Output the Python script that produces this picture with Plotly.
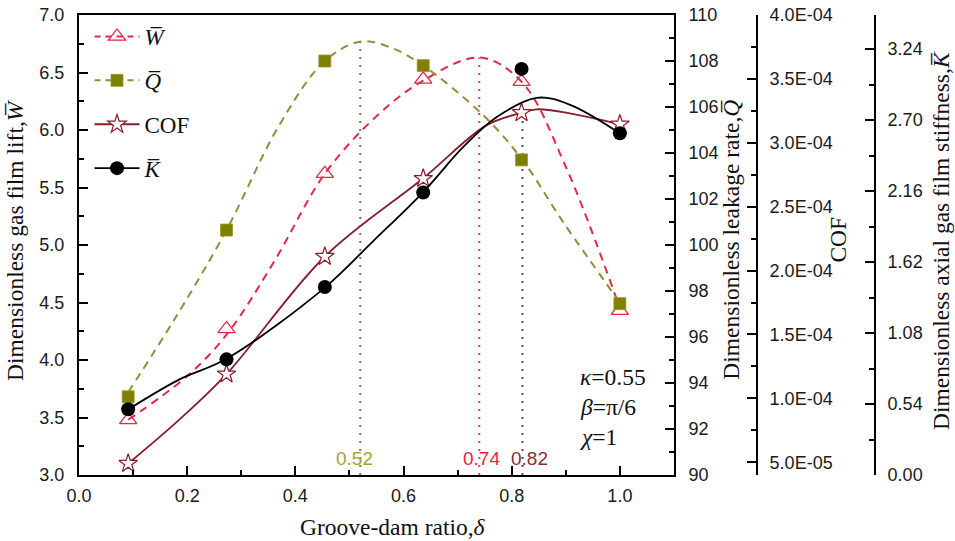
import plotly.graph_objects as go

# ---------------- data ----------------
delta = [0.0909, 0.2727, 0.4545, 0.6364, 0.8182, 1.0]
W = [3.48, 4.27, 5.62, 6.44, 6.42, 4.43]
Q = [93.4, 100.65, 108.0, 107.8, 103.7, 97.45]
COF = [4.9e-5, 1.19e-4, 2.11e-4, 2.72e-4, 3.235e-4, 3.145e-4]
K = [0.50, 0.88, 1.43, 2.15, 3.09, 2.60]

# fitted curves as drawn in the picture
W_fit_x = [0.0909, 0.2, 0.2727, 0.36, 0.4545, 0.55, 0.6364, 0.741, 0.8182, 0.9, 1.0]
W_fit = [3.48, 3.86, 4.22, 4.85, 5.62, 6.12, 6.43, 6.63, 6.42, 5.68, 4.45]
Q_fit_x = [0.0909, 0.18, 0.2727, 0.37, 0.4545, 0.522, 0.58, 0.6364, 0.747, 0.8182,
           0.895, 1.0]
Q_fit = [93.6, 96.9, 100.65, 105.2, 108.0, 108.85, 108.55, 107.8, 105.65, 103.75,
         101.0, 97.5]
COF_fit_x = [0.0909, 0.185, 0.2727, 0.4545, 0.6364, 0.753, 0.8182, 0.846, 0.907, 1.0]
COF_fit = [4.9e-5, 8.32e-5, 1.19e-4, 2.11e-4, 2.722e-4, 3.136e-4, 3.235e-4, 3.262e-4,
           3.2305e-4, 3.145e-4]
K_fit_x = [0.0909, 0.185, 0.2727, 0.4545, 0.543, 0.6364, 0.71, 0.771, 0.846, 0.907, 1.0]
K_fit = [0.499, 0.726, 0.884, 1.426, 1.776, 2.153, 2.494, 2.72, 2.87, 2.818, 2.599]

peak_x = [0.52, 0.74, 0.82]
peak_top = [6.77, 6.63, 6.15]
peak_labels = ["0.52", "0.74", "0.82"]

x_ticks = [0.0, 0.2, 0.4, 0.6, 0.8, 1.0]
cof_ticks = [5e-5, 1e-4, 1.5e-4, 2e-4, 2.5e-4, 3e-4, 3.5e-4, 4e-4]
k_ticks = [0.0, 0.54, 1.08, 1.62, 2.16, 2.70, 3.24]

# ---------------- styles ----------------
W_col = "#e62848"
Q_col = "#7f7f00"
Q_line = "#8e8e3c"
COF_col = "#8b1c2c"
K_col = "#000000"
peak_line_cols = ["#76764c", "#e0406a", "#5a4a5a"]
peak_text_cols = ["#a6a628", "#f0203c", "#8b2a3a"]
peak_shift = [-6, 2, 7]

SERIF = "Liberation Serif, Times New Roman, serif"
SANS = "Liberation Sans, Arial, sans-serif"
TICKF = dict(family=SANS, size=18, color="#1a1a1a")
SM = 1.0

fig = go.Figure()

# dotted peak lines
for px, top, col in zip(peak_x, peak_top, peak_line_cols):
    fig.add_trace(go.Scatter(x=[px, px], y=[3.0, top], mode="lines", yaxis="y",
                             line=dict(color=col, width=2, dash="2px,6px"),
                             showlegend=False, hoverinfo="skip"))

dash = "8px,6px"
fig.add_trace(go.Scatter(x=W_fit_x, y=W_fit, mode="lines", yaxis="y", showlegend=False,
                         line=dict(color=W_col, width=2, dash=dash, shape="spline", smoothing=SM)))
fig.add_trace(go.Scatter(x=Q_fit_x, y=Q_fit, mode="lines", yaxis="y2", showlegend=False,
                         line=dict(color=Q_line, width=2, dash=dash, shape="spline", smoothing=SM)))
fig.add_trace(go.Scatter(x=COF_fit_x, y=COF_fit, mode="lines", yaxis="y3", showlegend=False,
                         line=dict(color=COF_col, width=1.8, shape="spline", smoothing=SM)))
fig.add_trace(go.Scatter(x=K_fit_x, y=K_fit, mode="lines", yaxis="y4", showlegend=False,
                         line=dict(color=K_col, width=1.8, shape="spline", smoothing=SM)))

mW = dict(symbol="triangle-up-open", size=15, color=W_col, line=dict(width=1.3, color=W_col))
mQ = dict(symbol="square", size=12, color=Q_col, line=dict(width=0.8, color="#9a9a20"))
mC = dict(symbol="star", size=14, color="white", line=dict(width=1.2, color=COF_col))
mK = dict(symbol="circle", size=14, color=K_col)

fig.add_trace(go.Scatter(x=delta, y=W, mode="markers", yaxis="y", marker=mW, showlegend=False))
fig.add_trace(go.Scatter(x=delta, y=Q, mode="markers", yaxis="y2", marker=mQ, showlegend=False))
fig.add_trace(go.Scatter(x=delta, y=COF, mode="markers", yaxis="y3", marker=mC, showlegend=False))
fig.add_trace(go.Scatter(x=delta, y=K, mode="markers", yaxis="y4", marker=mK, showlegend=False))

# legend entries
leg = [("<i>W\u0305</i>", dict(color=W_col, width=2, dash="6px,5px"), mW, "g1"),
       ("<i>Q\u0305</i>", dict(color=Q_line, width=2, dash="6px,5px"), mQ, "g2"),
       ("COF", dict(color=COF_col, width=1.8), mC, "g3"),
       ("<i>K\u0305</i>", dict(color=K_col, width=1.8), mK, "g4")]
for name, ln, mk, g in leg:
    fig.add_trace(go.Scatter(x=[None], y=[None], mode="lines+markers", name=name,
                             line=ln, marker=mk, legendgroup=g, showlegend=True))

axis_common = dict(showline=True, linewidth=2, linecolor="black", showgrid=False,
                   zeroline=False, ticks="inside", tickwidth=1.5, tickcolor="black",
                   ticklen=9, tickfont=TICKF)

fig.update_layout(
    width=955, height=541,
    margin=dict(l=79, r=0, t=15, b=66),
    paper_bgcolor="white", plot_bgcolor="white",
    xaxis=dict(domain=[0, 0.6792], range=[0, 1.1], tickvals=x_ticks, tickformat=".1f",
               mirror=True, minor=dict(dtick=0.1, tick0=0, ticks="inside", ticklen=5,
                                       tickwidth=1.5, tickcolor="black"),
               ticklabelstandoff=3, **axis_common),
    yaxis=dict(range=[3, 7], dtick=0.5, tick0=3, tickformat=".1f",
               minor=dict(dtick=0.25, tick0=3, ticks="inside", ticklen=5, tickwidth=1.5,
                          tickcolor="black"),
               ticklabelstandoff=9, **axis_common),
    yaxis2=dict(range=[90, 110], dtick=2, tick0=90, overlaying="y", side="right", anchor="x",
                minor=dict(dtick=1, tick0=90, ticks="inside", ticklen=5, tickwidth=1.5,
                           tickcolor="black"),
                ticklabelstandoff=9, **axis_common),
    yaxis3=dict(range=[4e-5, 4e-4], tickvals=cof_ticks,
                ticktext=[f"{v:.1E}" for v in cof_ticks],
                overlaying="y", side="right", anchor="free", position=0.774,
                minor=dict(dtick=2.5e-5, tick0=0, ticks="inside", ticklen=5, tickwidth=1.5,
                           tickcolor="black"),
                ticklabelstandoff=8, **axis_common),
    yaxis4=dict(range=[0, 3.5], tickvals=k_ticks, ticktext=[f"{v:.2f}" for v in k_ticks],
                overlaying="y", side="right", anchor="free", position=0.9087,
                minor=dict(dtick=0.27, tick0=0, ticks="inside", ticklen=5, tickwidth=1.5,
                           tickcolor="black"),
                ticklabelstandoff=8, **axis_common),
    legend=dict(x=0.012, y=1.0, xanchor="left", yanchor="top", bgcolor="rgba(0,0,0,0)",
                font=dict(family=SERIF, size=23, color="#111111"),
                traceorder="grouped", tracegroupgap=11, itemwidth=45),
    showlegend=True,
)

TITLEF = dict(family=SERIF, size=23.5, color="#111111")
ann = [
    dict(x=-0.073, y=0.511, text="Dimensionless gas film lift,<i>W\u0305</i>", textangle=-90),
    dict(x=0.744, y=0.511, text="Dimensionless leakage rate,<i>Q\u0305</i>", textangle=-90),
    dict(x=0.866, y=0.511, text="COF", textangle=-90),
    dict(x=0.984, y=0.511, text="Dimensionless axial gas film stiffness,<i>K\u0305</i>", textangle=-90),
    dict(x=0.358, y=-0.113, text="Groove-dam ratio,<i>\u03b4</i>", textangle=0),
]
for a in ann:
    fig.add_annotation(xref="paper", yref="paper", showarrow=False, font=TITLEF,
                       xanchor="center", yanchor="middle", **a)

params = ["<i>\u03ba</i>=0.55", "<i>\u03b2</i>=\u03c0/6", "<i>\u03c7</i>=1"]
param_y = [0.213, 0.148, 0.083]
for t, yy in zip(params, param_y):
    fig.add_annotation(xref="paper", yref="paper", x=0.5696, y=yy, text=t, showarrow=False,
                       xanchor="left", yanchor="middle", font=TITLEF)

for px, lab, col, sh in zip(peak_x, peak_labels, peak_text_cols, peak_shift):
    fig.add_annotation(x=px, y=3.0, xref="x", yref="y", text=lab, showarrow=False,
                       xanchor="center", yanchor="bottom", xshift=sh, yshift=4,
                       font=dict(family=SANS, size=19, color=col))

fig.write_html("out.html")
